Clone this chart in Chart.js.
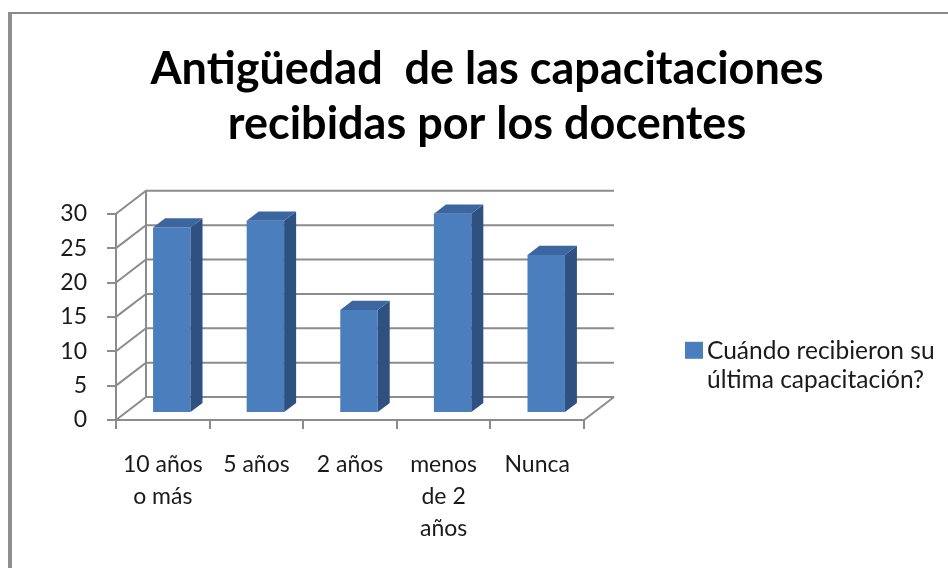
<!DOCTYPE html>
<html>
<head>
<meta charset="utf-8">
<script src="https://cdn.jsdelivr.net/npm/chart.js@4.4.1/dist/chart.umd.min.js"></script>
<style>
  html, body { margin: 0; padding: 0; background: #fff; }
  #wrap { position: relative; width: 948px; height: 568px; overflow: hidden; }
  #frame {
    position: absolute; left: 8px; top: 12px; right: -10px; bottom: -10px;
    border-left: 4px solid #8f8f8f; border-top: 2px solid #8a8a8a;
  }
  #c { position: absolute; left: 0; top: 0; }
</style>
</head>
<body>
<div id="wrap">
  <div id="frame"></div>
  <canvas id="c" width="948" height="568"></canvas>
</div>
<script>
// datos
const categories = [['10 años', 'o más'], ['5 años'], ['2 años'], ['menos', 'de 2', 'años'], ['Nunca']];
const values = [27, 28, 15, 29, 23];
const seriesLabel = 'Cuándo recibieron su última capacitación?';
const legendLines = ['Cuándo recibieron su', 'última capacitación?'];
const titleLines = ['Antigüedad  de las capacitaciones', 'recibidas por los docentes'];
const yMax = 30;
const yStep = 5;

// 3D: profundidad total del piso y posición de las barras dentro de ella
const DX = 30, DY = -23;
const FRONT = 0.3;   // cara frontal de la barra
const DEPTH = 0.4;   // grosor de la barra

const gridColor = '#8c8c8c';
const faceColor = '#4a7ebd';
const sideColor = '#2e5182';
const topColor = '#3b669f';
const fontFamily = 'Lato, "Open Sans", sans-serif';

const depth3d = {
  id: 'depth3d',
  beforeDatasetsDraw(chart) {
    const { ctx, chartArea: a, scales: { x, y } } = chart;
    const y0 = y.getPixelForValue(0);
    const yTop = y.getPixelForValue(yMax);
    ctx.save();
    ctx.strokeStyle = gridColor;
    ctx.lineWidth = 2;
    ctx.beginPath();
    // pared lateral + pared del fondo
    y.ticks.forEach(t => {
      const py = y.getPixelForValue(t.value);
      ctx.moveTo(a.left, py);
      ctx.lineTo(a.left + DX, py + DY);
      ctx.lineTo(a.right + DX, py + DY);
    });
    ctx.moveTo(a.left + DX, yTop + DY);
    ctx.lineTo(a.left + DX, y0 + DY);
    // borde derecho del piso
    ctx.moveTo(a.right, y0);
    ctx.lineTo(a.right + DX, y0 + DY);
    ctx.stroke();
    ctx.restore();

    // las barras se dibujan un poco hacia el fondo
    ctx.save();
    ctx.translate(DX * FRONT, DY * FRONT);
  },
  afterDatasetsDraw(chart) {
    const ctx = chart.ctx;
    const dx = DX * DEPTH, dy = DY * DEPTH;
    chart.getDatasetMeta(0).data.forEach(bar => {
      const { x, y, base, width } = bar.getProps(['x', 'y', 'base', 'width'], true);
      const l = x - width / 2, r = x + width / 2;
      ctx.fillStyle = sideColor;
      ctx.beginPath();
      ctx.moveTo(r, base);
      ctx.lineTo(r, y);
      ctx.lineTo(r + dx, y + dy);
      ctx.lineTo(r + dx, base + dy);
      ctx.closePath();
      ctx.fill();
      ctx.fillStyle = topColor;
      ctx.beginPath();
      ctx.moveTo(l, y);
      ctx.lineTo(r, y);
      ctx.lineTo(r + dx, y + dy);
      ctx.lineTo(l + dx, y + dy);
      ctx.closePath();
      ctx.fill();
    });
    ctx.restore();
  },
  afterDraw(chart) {
    // leyenda a la derecha (dos líneas)
    const { ctx, chartArea: a } = chart;
    const lx = a.right + 101;
    const ly = a.top + 128;
    ctx.save();
    ctx.fillStyle = faceColor;
    ctx.fillRect(lx, ly, 18, 17);
    ctx.fillStyle = '#1a1a1a';
    ctx.font = '24.5px ' + fontFamily;
    ctx.textBaseline = 'alphabetic';
    legendLines.forEach((line, i) => {
      ctx.fillText(line, lx + 22, ly + 17 + i * 29);
    });
    ctx.restore();
  }
};

new Chart(document.getElementById('c'), {
  type: 'bar',
  data: {
    labels: categories,
    datasets: [{
      label: seriesLabel,
      data: values,
      backgroundColor: faceColor,
      borderWidth: 0,
      categoryPercentage: 1,
      barPercentage: 0.4,
      clip: false
    }]
  },
  options: {
    responsive: false,
    animation: false,
    layout: { padding: { left: 26, right: 0, top: 0, bottom: 0 } },
    plugins: {
      legend: { display: false },
      tooltip: { enabled: false },
      title: {
        display: true,
        text: titleLines,
        color: '#000',
        font: { family: fontFamily, size: 45, weight: 'bold', lineHeight: 1.22 },
        padding: { top: 42, bottom: 62 }
      }
    },
    scales: {
      x: {
        grid: { drawOnChartArea: false, drawTicks: true, tickLength: 9, color: gridColor, lineWidth: 2 },
        border: { display: true, color: gridColor, width: 2 },
        ticks: { color: '#1a1a1a', font: { family: fontFamily, size: 23, lineHeight: 1.4 }, padding: 19, maxRotation: 0, autoSkip: false },
        afterFit(s) { s.height = 148; }
      },
      y: {
        min: 0,
        max: yMax,
        grid: { drawOnChartArea: false, drawTicks: true, tickLength: 9, color: gridColor, lineWidth: 2 },
        border: { display: true, color: gridColor, width: 2 },
        ticks: { stepSize: yStep, color: '#1a1a1a', font: { family: fontFamily, size: 23 }, padding: 20 },
        afterFit(s) { s.width = 90; }
      },
      spacer: {
        type: 'linear',
        position: 'right',
        grid: { display: false },
        border: { display: false },
        ticks: { display: false },
        afterFit(s) { s.width = 364; }
      }
    }
  },
  plugins: [depth3d]
});
</script>
</body>
</html>
